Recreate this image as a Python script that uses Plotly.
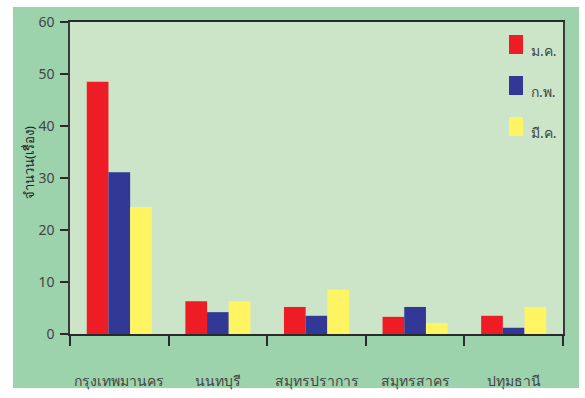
import plotly.graph_objects as go

# Provinces (x categories) and monthly counts per series
provinces = ["กรุงเทพมานคร", "นนทบุรี", "สมุทรปราการ", "สมุทรสาคร", "ปทุมธานี"]
months = ["ม.ค.", "ก.พ.", "มี.ค."]
jan = [48.5, 6.3, 5.2, 3.3, 3.5]
feb = [31.1, 4.2, 3.5, 5.2, 1.2]
mar = [24.4, 6.3, 8.5, 2.1, 5.2]
y_ticks = [0, 10, 20, 30, 40, 50, 60]
y_title = "จำนวน(เรื่อง)"

colors = ["#ee1c25", "#313896", "#fff563"]
series = [jan, feb, mar]

W, H = 585, 398
L, R, T, B = 70, 22, 22, 64
pw, ph = W - L - R, H - T - B


def px_x(x):
    return (x - L) / pw


def px_y(y):
    return (H - B - y) / ph


fig = go.Figure()
for name, vals, col in zip(months, series, colors):
    fig.add_trace(go.Bar(x=provinces, y=vals, name=name, marker=dict(color=col, line=dict(width=0)),
                         showlegend=False))

shapes = [
    # outer green panel
    dict(type="rect", xref="paper", yref="paper", x0=px_x(13), x1=px_x(579), y0=px_y(388), y1=px_y(7),
         fillcolor="#9cd3ad", line=dict(width=0), layer="below"),
    # plot area background
    dict(type="rect", xref="paper", yref="paper", x0=0, x1=1, y0=0, y1=1,
         fillcolor="#cce5c9", line=dict(width=0), layer="below"),
]
annotations = []
# legend swatches and labels
for i, (name, col) in enumerate(zip(months, colors)):
    top = 35 + 41 * i
    shapes.append(dict(type="rect", xref="paper", yref="paper", x0=px_x(509), x1=px_x(523),
                       y0=px_y(top + 19), y1=px_y(top), fillcolor=col, line=dict(width=0), layer="above"))
    annotations.append(dict(x=px_x(529), y=px_y(top + 15), xref="paper", yref="paper", text=name,
                            showarrow=False, xanchor="left", yanchor="middle",
                            font=dict(size=14, color="#444444")))

annotations.append(dict(x=px_x(29), y=px_y(163), xref="paper", yref="paper", text=y_title, textangle=-90,
                        showarrow=False, xanchor="center", yanchor="middle",
                        font=dict(size=13, color="#222222")))

fig.update_layout(
    width=W, height=H,
    margin=dict(l=L, r=R, t=T, b=B, autoexpand=False),
    paper_bgcolor="white",
    plot_bgcolor="rgba(0,0,0,0)",
    barmode="group",
    bargap=0.34,
    bargroupgap=0,
    font=dict(family="Noto Sans, DejaVu Sans, sans-serif", color="#444444"),
    shapes=shapes,
    annotations=annotations,
    xaxis=dict(
        type="category", tickson="boundaries", ticks="outside", ticklen=10, tickwidth=1.5,
        tickcolor="#2a2a2a", showline=True, linecolor="#2a2a2a", linewidth=1.5, mirror=True,
        showgrid=False, tickfont=dict(size=14, color="#444444"), tickangle=0,
        ticklabelstandoff=33, automargin=False,
    ),
    yaxis=dict(
        range=[0, 60], tickvals=y_ticks, ticks="outside", ticklen=8, tickwidth=1.5,
        tickcolor="#2a2a2a", showline=True, linecolor="#3a3a3a", linewidth=1.5, mirror=True,
        showgrid=False, zeroline=False, tickfont=dict(size=14, color="#444444"), automargin=False,
        ticklabelstandoff=3,
    ),
)

fig.write_html("out.html")
